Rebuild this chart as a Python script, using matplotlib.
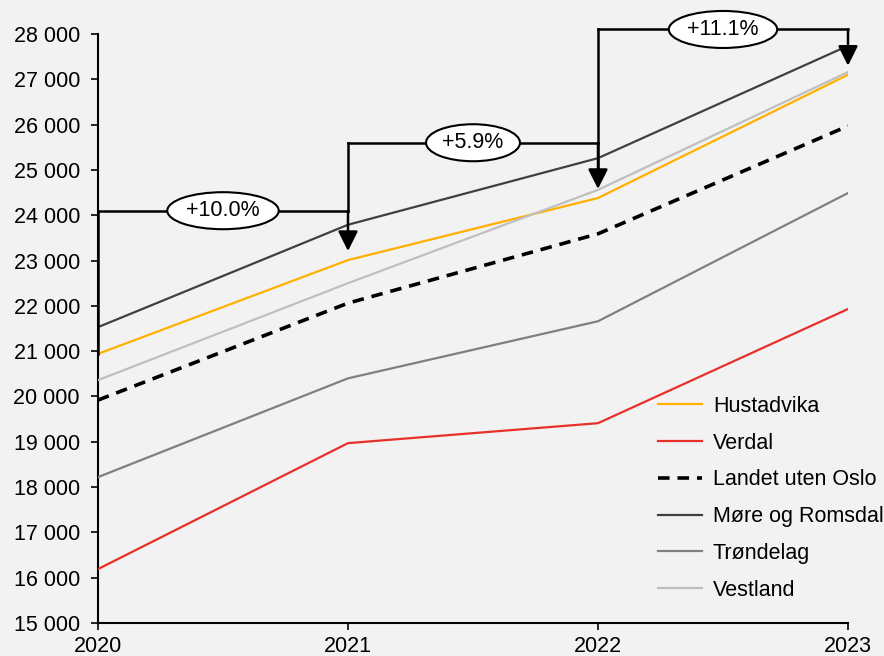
import matplotlib
matplotlib.use("Agg")
import matplotlib.pyplot as plt
from matplotlib.ticker import FuncFormatter, FixedLocator

plt.rcParams['font.family'] = ['Liberation Sans', 'DejaVu Sans']

years = [2020, 2021, 2022, 2023]
hustadvika = [20940, 23010, 24380, 27100]
verdal = [16190, 18970, 19410, 21930]
landet = [19920, 22060, 23590, 25970]
more_romsdal = [21530, 23790, 25260, 27740]
trondelag = [18220, 20400, 21660, 24490]
vestland = [20360, 22500, 24560, 27160]
growth_labels = ["+10.0%", "+5.9%", "+11.1%"]
bracket_levels = [24100, 25600, 28100]

bg = '#F2F2F2'
fs = 15.5
fig = plt.figure(figsize=(8.84, 6.56), dpi=100, facecolor=bg)
ax = fig.add_axes([98/884, 33/656, 750/884, 589/656], facecolor=bg)

lw = 1.6
ax.plot(years, hustadvika, color='#FFB000', lw=lw, label='Hustadvika', zorder=3)
ax.plot(years, verdal, color='#E8302A', lw=lw, label='Verdal', zorder=3)
ax.plot(years, landet, color='black', lw=2.6, ls=(0, (3.2, 2.2)), label='Landet uten Oslo', zorder=3)
ax.plot(years, more_romsdal, color='#404040', lw=lw, label='Møre og Romsdal', zorder=3)
ax.plot(years, trondelag, color='#808080', lw=lw, label='Trøndelag', zorder=3)
ax.plot(years, vestland, color='#BFBFBF', lw=lw, label='Vestland', zorder=3)

ax.set_xlim(2020, 2023)
ax.set_ylim(15000, 28000)
ax.yaxis.set_major_locator(FixedLocator(range(15000, 28001, 1000)))
ax.yaxis.set_major_formatter(FuncFormatter(lambda v, p: format(int(v), ',').replace(',', ' ')))
ax.xaxis.set_major_locator(FixedLocator(years))
ax.tick_params(axis='both', labelsize=fs, length=5, width=1.2, colors='black', direction='out')
ax.tick_params(axis='x', pad=4)
ax.tick_params(axis='y', pad=8)
for s in ['top', 'right']:
    ax.spines[s].set_visible(False)
for s in ['left', 'bottom']:
    ax.spines[s].set_linewidth(1.5)

# brackets
blw = 1.8
ax.plot([years[0], years[0]], [hustadvika[0], bracket_levels[0]], color='black', lw=blw, clip_on=False, zorder=4)
for i in range(3):
    x0, x1 = years[i], years[i+1]
    lvl = bracket_levels[i]
    if i > 0:
        ax.plot([x0, x0], [bracket_levels[i-1] if i == 1 else hustadvika[i] + 400, lvl], color='black', lw=blw, clip_on=False, zorder=4)
    ax.plot([x0, x1], [lvl, lvl], color='black', lw=blw, clip_on=False, zorder=4)
    ax.annotate('', xy=(x1, hustadvika[i+1] + 200), xytext=(x1, lvl),
                arrowprops=dict(arrowstyle='-|>,head_length=1.2,head_width=0.6', color='black', lw=blw,
                                shrinkA=0, shrinkB=0), annotation_clip=False, zorder=4)
    ax.text((x0 + x1) / 2, lvl, growth_labels[i], ha='center', va='center', fontsize=fs, zorder=5,
            bbox=dict(boxstyle='ellipse,pad=0.12', fc='white', ec='black', lw=1.5), clip_on=False)

leg = ax.legend(loc='upper left', bbox_to_anchor=(658/884, 1 - 396/656), bbox_transform=fig.transFigure,
                frameon=False, fontsize=fs, borderpad=0, borderaxespad=0,
                handlelength=2.05, handletextpad=0.5, labelspacing=0.73)

fig.savefig('out.png', dpi=100, facecolor=bg)
